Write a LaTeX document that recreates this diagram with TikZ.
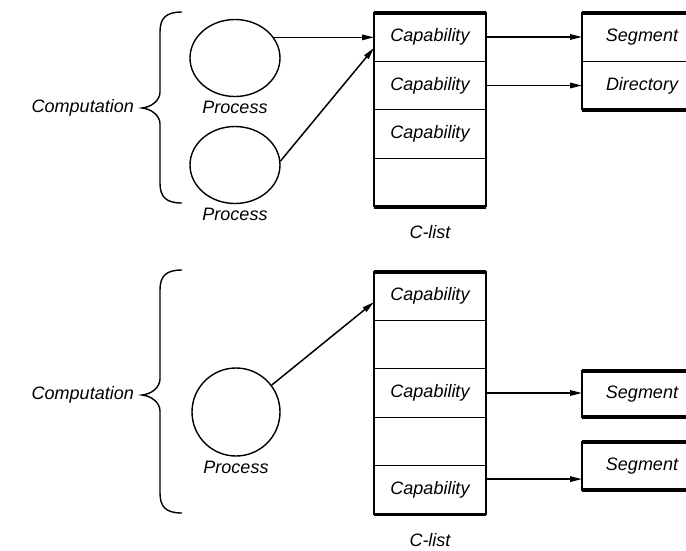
\documentclass[tikz,border=0pt]{standalone}
\usepackage{fontspec}
\setmainfont{Liberation Sans}
\usepackage{tikz}
\usetikzlibrary{calc}
\usetikzlibrary{positioning}
\usetikzlibrary{arrows.meta}
\usetikzlibrary{shapes.geometric}

\begin{document}
\begin{tikzpicture}[x=1pt,y=-1pt,
    txt/.style={font=\itshape\fontsize{18}{21}\selectfont},
    cell/.style={draw, line width=1.4pt, txt, minimum width=112pt, minimum height=48.5pt, inner sep=0pt, outer sep=0pt},
    seg/.style={draw, line width=1.4pt, txt, minimum width=120pt, inner sep=0pt, outer sep=0pt},
    proc/.style={draw, line width=1.4pt, ellipse, minimum width=90pt, minimum height=77pt, inner sep=0pt},
    lbl/.style={txt, inner sep=0pt},
    bar/.style={line width=3.5pt},
    brc/.style={line width=1.4pt},
    conn/.style={line width=1.5pt, -{Triangle[length=12pt,width=5.5pt]}}]

\useasboundingbox (0,0) rectangle (686,550);
\clip (0,0) rectangle (686,550);

%================ TOP COMPUTATION ==================
\node[proc] (p1) at (235,58) {};
\node[lbl, below=4pt of p1] (pl1) {Process};
\node[proc] (p2) at (235,165) {};
\node[lbl, below=4pt of p2] (pl2) {Process};

% brace
\draw[brc] (182,12) .. controls (166,12) and (160,18) .. (160,32) -- (160,92)
  .. controls (160,100) and (152,107) .. (142,108)
  .. controls (152,109) and (160,116) .. (160,124) -- (160,183)
  .. controls (160,197) and (166,203) .. (182,203);
\coordinate (tip1) at (142,108);
\node[lbl, left=8pt of tip1] (comp1) {Computation};

% C-list
\node[cell] (t1) at (430,37) {Capability};
\node[cell, below=0pt of t1] (t2) {Capability};
\node[cell, below=0pt of t2] (t3) {Capability};
\node[cell, below=0pt of t3] (t4) {};
\draw[bar] (t1.north west) -- (t1.north east);
\draw[bar] (t4.south west) -- (t4.south east);
\node[lbl, below=19pt of t4] (cl1) {C-list};

% segment / directory
\node[seg, minimum height=48.5pt] (sg) at (642,37) {Segment};
\node[seg, minimum height=48.5pt, below=0pt of sg] (dir) {Directory};
\draw[bar] (sg.north west) -- (sg.north east);
\draw[bar] (dir.south west) -- (dir.south east);

%================ BOTTOM COMPUTATION ==================
\node[proc, circle, minimum size=88pt] (p3) at (236,412) {};
\node[lbl, below=4pt of p3] (pl3) {Process};

\draw[brc] (182,270) .. controls (166,270) and (160,276) .. (160,290) -- (160,379)
  .. controls (160,387) and (152,394) .. (142,395)
  .. controls (152,396) and (160,403) .. (160,411) -- (160,493)
  .. controls (160,507) and (166,513) .. (182,513);
\coordinate (tip2) at (142,395);
\node[lbl, left=8pt of tip2] (comp2) {Computation};

\node[cell] (b1) at (430,296) {Capability};
\node[cell, below=0pt of b1] (b2) {};
\node[cell, below=0pt of b2] (b3) {Capability};
\node[cell, below=0pt of b3] (b4) {};
\node[cell, below=0pt of b4] (b5) {Capability};
\draw[bar] (b1.north west) -- (b1.north east);
\draw[bar] (b5.south west) -- (b5.south east);
\node[lbl, below=19pt of b5] (cl2) {C-list};

\node[seg, minimum height=46pt] (sb1) at (642,394) {Segment};
\node[seg, minimum height=48pt] (sb2) at (642,466) {Segment};
\draw[bar] (sb1.north west) -- (sb1.north east);
\draw[bar] (sb1.south west) -- (sb1.south east);
\draw[bar] (sb2.north west) -- (sb2.north east);
\draw[bar] (sb2.south west) -- (sb2.south east);

%================ ARROWS ==================
\coordinate (in1) at ($(t1.west)!0.45!(t1.south west)$);
\coordinate (in3) at ($(b1.west)!0.25!(b1.south west)$);
\coordinate (a5) at ($(b5.east)!0.45!(b5.north east)$);

\draw[conn] (p1.28) -- (p1.28 -| t1.west);
\draw[conn] (p2.5) -- (in1);
\draw[conn] (t1.east) -- (sg.west);
\draw[conn] (t2.east) -- (dir.west);

\draw[conn] (p3.37) -- (in3);
\draw[conn] (b3.east) -- (b3.east -| sb1.west);
\draw[conn] (a5) -- (a5 -| sb2.west);

\end{tikzpicture}
\end{document}
